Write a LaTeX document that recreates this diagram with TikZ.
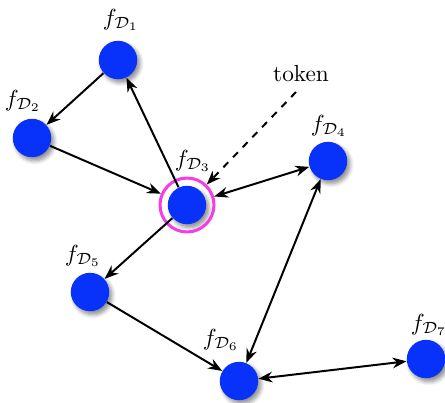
\documentclass[tikz,border=0pt]{standalone}
\usetikzlibrary{arrows.meta,shadows.blur}
\definecolor{nodeblue}{RGB}{8,50,250}
\definecolor{ringmag}{RGB}{245,60,230}
\begin{document}
\begin{tikzpicture}[x=0.43pt,y=-0.43pt,
  fnode/.style={circle,fill=nodeblue,minimum size=16.5pt,inner sep=0pt,
    blur shadow={shadow xshift=1.2pt,shadow yshift=-1.5pt,shadow blur steps=6,shadow opacity=45}},
  ringnode/.style={circle,draw=ringmag,line width=1.3pt,minimum size=23.2pt,inner sep=0pt},
  conn/.style={line width=0.85pt,-{Stealth[length=6pt,width=4.6pt]}},
  biconn/.style={line width=0.85pt,{Stealth[length=6pt,width=4.6pt]}-{Stealth[length=6pt,width=4.6pt]}},
  lbl/.style={inner sep=0pt}]
\useasboundingbox (0,0) rectangle (445,402);
\node[fnode] (d1) at (118,60) {};
\node[fnode] (d2) at (32,138) {};
\node[fnode] (d3) at (187,205) {};
\node[ringnode] (r3) at (187,205) {};
\node[fnode] (d4) at (328,161) {};
\node[fnode] (d5) at (90,292) {};
\node[fnode] (d6) at (239,381) {};
\node[fnode] (d7) at (426,359) {};
\node[lbl] (l1) at (121,20) {$f_{\mathcal{D}_1}$};
\node[lbl] (l2) at (23,101) {$f_{\mathcal{D}_2}$};
\node[lbl] (l3) at (193,161) {$f_{\mathcal{D}_3}$};
\node[lbl] (l4) at (329,126) {$f_{\mathcal{D}_4}$};
\node[lbl] (l5) at (83,256) {$f_{\mathcal{D}_5}$};
\node[lbl] (l6) at (221,340) {$f_{\mathcal{D}_6}$};
\node[lbl] (l7) at (429,325) {$f_{\mathcal{D}_7}$};
\node[lbl] (tok) at (301,74) {token};
\coordinate (ts) at (296,92);
\draw[conn] (d1) -- (d2);
\draw[conn] (d3) -- (d1);
\draw[conn] (d2) -- (r3);
\draw[biconn] (r3) -- (d4);
\draw[conn] (d3) -- (d5);
\draw[conn] (d5) -- (d6);
\draw[biconn] (d4) -- (d6);
\draw[biconn] (d6) -- (d7);
\draw[conn,dashed] (ts) -- (r3);
\end{tikzpicture}
\end{document}
